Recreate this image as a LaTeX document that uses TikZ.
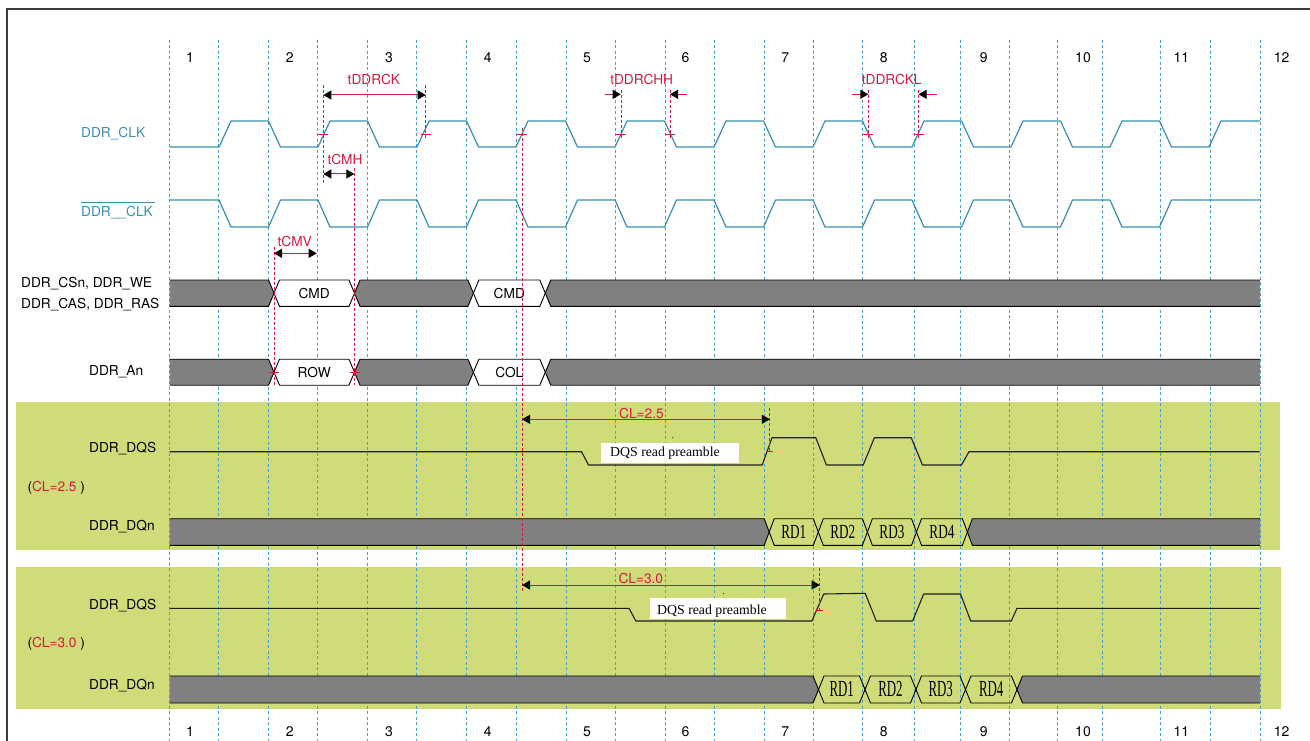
\documentclass[tikz,border=0pt]{standalone}
\usepackage{fontspec}
\setmainfont{TeX Gyre Heros}
\newfontfamily\tnr{Liberation Serif}
\usetikzlibrary{arrows.meta}
\definecolor{clk}{RGB}{58,143,176}
\definecolor{grid}{RGB}{70,160,205}
\definecolor{ann}{RGB}{215,25,65}
\definecolor{band}{RGB}{208,219,122}
\definecolor{busgray}{RGB}{128,128,128}
\definecolor{framec}{RGB}{60,60,60}

\newcommand\busL[5]{%
  \fill[busfill] (#1,#3-#4) -- (#2-#5,#3-#4) -- (#2,#3) -- (#2-#5,#3+#4) -- (#1,#3+#4) -- cycle;
  \draw[busline] (#1,#3-#4) -- (#2-#5,#3-#4) -- (#2,#3) -- (#2-#5,#3+#4) -- (#1,#3+#4);}
\newcommand\busR[5]{%
  \fill[busfill] (#1,#3) -- (#1+#5,#3-#4) -- (#2,#3-#4) -- (#2,#3+#4) -- (#1+#5,#3+#4) -- cycle;
  \draw[busline] (#2,#3-#4) -- (#1+#5,#3-#4) -- (#1,#3) -- (#1+#5,#3+#4) -- (#2,#3+#4);}
\newcommand\busH[6]{%
  \path[busline,#6] (#1,#3) -- (#1+#5,#3-#4) -- (#2-#5,#3-#4) -- (#2,#3) -- (#2-#5,#3+#4) -- (#1+#5,#3+#4) -- cycle;}

\tikzset{
  sans/.style={font=\fontsize{13.7}{16}\selectfont, inner sep=0pt},
  lblw/.style={sans, anchor=base west},
  lblc/.style={sans, anchor=base},
  anntext/.style={lblc, text=ann},
  clkline/.style={draw=clk, line width=1.2pt, line join=round},
  dqsline/.style={draw=black!88, line width=1.1pt, line join=round},
  busline/.style={draw=black, line width=0.9pt},
  busfill/.style={fill=busgray},
  gdash/.style={draw=grid, line width=0.8pt, dash pattern=on 3pt off 2.5pt},
  rdash/.style={draw=ann, line width=0.9pt, dash pattern=on 3pt off 2pt},
  rtick/.style={draw=ann, line width=0.9pt},
  dimboth/.style={draw=ann, line width=1pt, {Triangle[length=8pt,width=9pt,color=black]}-{Triangle[length=8pt,width=9pt,color=black]}},
  dimone/.style={draw=ann, line width=1pt, -{Triangle[length=8pt,width=9pt,color=black]}},
  rdtext/.style={inner sep=0pt, anchor=base},
  pretext/.style={inner sep=0pt, anchor=base west, font=\tnr\fontsize{13.8}{15}\selectfont},
}

\begin{document}
\begin{tikzpicture}[x=1pt,y=-1pt]
\useasboundingbox (0,0) rectangle (1310,741);
\fill[white] (0,0) rectangle (1310,741);

% green bands
\fill[band] (16,401.7) rectangle (1279.5,550.3);
\fill[band] (16,567) rectangle (1281,709.3);

% grid
\foreach \gx in {169.7,218.7,268.3,317.7,367.3,416.7,466.7,516.3,566,615.3,665,714.3,764,813.3,862.7,914,960.7,1009.3,1057,1102,1160.7,1210.3,1260}
  \draw[gdash] (\gx,40) -- (\gx,741);

% frame
\draw[framec, line width=1.3pt] (7,741) -- (7,9) -- (1310,9);

% cycle numbers
\foreach \n/\nx in {1/190,2/289.7,3/389,4/487.7,5/587,6/685.5,7/785.3,8/883.8,9/983.7,10/1083,11/1181.3,12/1281.7} {
  \node[lblc, font=\fontsize{14}{16}\selectfont] (top\n) at (\nx,62.5) {\n};
  \node[lblc, font=\fontsize{14}{16}\selectfont] (bot\n) at (\nx,736.5) {\n};
}

% DDR_CLK
\draw[clkline] (169.7,147) -- (219,147) -- (231,121) -- (268.5,121) -- (280.5,147) -- (318,147);
\foreach \k in {3,5,...,19} {
  \pgfmathsetmacro\e{169.5+49.5*\k}
  \draw[clkline] (\e,147) -- (\e+12,121) -- (\e+49.5,121) -- (\e+61.5,147) -- (\e+99,147);
}
\draw[clkline] (1209,147) -- (1221,121) -- (1260,121);

% DDR__CLK (inverted)
\draw[clkline] (169.7,200) -- (219,200) -- (231,227) -- (268.5,227) -- (280.5,200) -- (318,200);
\foreach \k in {3,5,...,17} {
  \pgfmathsetmacro\e{169.5+49.5*\k}
  \draw[clkline] (\e,200) -- (\e+12,227) -- (\e+49.5,227) -- (\e+61.5,200) -- (\e+99,200);
}
\draw[clkline] (1110,200) -- (1122,227) -- (1159.5,227) -- (1171.5,200) -- (1260,200);

% command bus
\busL{169.7}{274}{293.2}{13.2}{5.5}
\busH{274}{354.5}{293.2}{13.2}{5.5}{fill=white}
\busH{354.5}{473.4}{293.2}{13.2}{5.5}{fill=busgray}
\busH{473.4}{545.3}{293.2}{13.2}{5.5}{fill=white}
\busR{545.3}{1260}{293.2}{13.2}{5.5}
\node[sans] (cmd1) at (314.2,293.2) {CMD};
\node[sans] (cmd2) at (509.3,293.2) {CMD};

% address bus
\busL{169.7}{274}{372.2}{13}{5.5}
\busH{274}{354.5}{372.2}{13}{5.5}{fill=white}
\busH{354.5}{473.4}{372.2}{13}{5.5}{fill=busgray}
\busH{473.4}{545.3}{372.2}{13}{5.5}{fill=white}
\busR{545.3}{1260}{372.2}{13}{5.5}
\node[sans] (row) at (314.2,372.4) {ROW};
\node[sans] (col) at (509.3,372.4) {COL};

% DQS band 1
\draw[dqsline] (169.7,451.7) -- (581.5,451.7) -- (588.5,465) -- (762.2,465) -- (772,437.7) -- (815.8,437.7) -- (826.4,465) -- (863.2,465) -- (874.4,437.7) -- (911.2,437.7) -- (922.5,465) -- (961.4,465) -- (969,451.7) -- (1259.5,451.7);
\fill[white] (600.8,443.3) rectangle (738.7,462.7);
\node[pretext] (pre1) at (610,456.7) {DQS read preamble};
\fill[black!80] (672.7,437.7) circle (0.6);

% DQn band 1
\busL{169.7}{769.2}{532}{13.3}{5}
\busH{769.2}{818.3}{532}{13.3}{5}{fill=none}
\busH{818.3}{867.4}{532}{13.3}{5}{fill=none}
\busH{867.4}{916.5}{532}{13.3}{5}{fill=none}
\busH{916.5}{967.4}{532}{13.3}{5}{fill=none}
\busR{967.4}{1260}{532}{13.3}{5}
\foreach \r/\rx in {1/793.75,2/842.85,3/891.95,4/941.95}
  \node[rdtext] (rda\r) at (\rx,538.3) {\tnr\fontsize{20}{22}\selectfont\scalebox{0.66}[1]{RD\r}};

% DQS band 2
\draw[dqsline] (169.7,608.3) -- (629.1,608.3) -- (635.8,621) -- (811.8,621) -- (823.7,594) -- (865.2,593.3) -- (876.3,621) -- (912.6,621) -- (923.7,594) -- (960.5,594) -- (970.7,621) -- (1011.3,621) -- (1017,608.3) -- (1259.5,608.3);
\fill[white] (649.7,597.7) rectangle (786.1,619.3);
\node[pretext] (pre2) at (657,614.2) {DQS read preamble};
\fill[black!80] (723.6,593.3) circle (0.6);

% DQn band 2
\busL{169.7}{818.5}{689.5}{13.5}{5.5}
\busH{818.5}{865}{689.5}{13.5}{5.5}{fill=none}
\busH{865}{916}{689.5}{13.5}{5.5}{fill=none}
\busH{916}{965.5}{689.5}{13.5}{5.5}{fill=none}
\busH{965.5}{1017}{689.5}{13.5}{5.5}{fill=none}
\busR{1017}{1260}{689.5}{13.5}{5.5}
\foreach \r/\rx in {1/841.75,2/890.5,3/940.75,4/991.25}
  \node[rdtext] (rdb\r) at (\rx,696) {\tnr\fontsize{23}{25}\selectfont\scalebox{0.56}[1]{RD\r}};

% red dashed reference lines
\draw[rdash] (323.3,85) -- (323.3,183.5);
\draw[rdash] (425.7,85) -- (425.7,140);
\draw[rdash] (354.3,168) -- (354.3,385);
\draw[rdash] (274,246.7) -- (274,385);
\draw[rdash] (522,128) -- (522,592);
\draw[rdash] (621,90) -- (621,140);
\draw[rdash] (670.3,90) -- (670.3,140);
\draw[rdash] (868.3,90) -- (868.3,140);
\draw[rdash] (918.6,90) -- (918.6,140);
\draw[rdash] (769.9,408.3) -- (769.9,453.3);
\draw[rdash] (819.7,568) -- (819.7,611.7);

% red ticks
\foreach \tx in {323.3,425.7,522,621,670.3,868.3,918.6}
  \draw[rtick] (\tx-5,134) -- (\tx+5,134);
\draw[rtick] (268.5,372.2) -- (278.5,372.2);
\draw[rtick] (349.8,372.2) -- (359.8,372.2);
\draw[rtick] (765.7,451.7) -- (772.5,451.7);
\draw[rtick] (815.8,610) -- (822.5,610);

% dimension arrows
\coordinate (ck1) at (323.3,95);   \coordinate (ck2) at (425.7,95);
\draw[dimboth] (ck1) -- (ck2);
\node[anntext] (tddrck) at (373.8,85) {tDDRCK};

\coordinate (cmh1) at (323.3,174); \coordinate (cmh2) at (354.3,174);
\draw[dimboth] (cmh1) -- (cmh2);
\node[anntext] (tcmh) at (345,165) {tCMH};

\coordinate (cmv1) at (274,253.3); \coordinate (cmv2) at (316.7,253.3);
\draw[dimboth] (cmv1) -- (cmv2);
\node[anntext] (tcmv) at (294.7,246) {tCMV};

\coordinate (chh1) at (605,94.3);  \coordinate (chh2) at (620.7,94.3);
\coordinate (chh3) at (686.7,94.3); \coordinate (chh4) at (670,94.3);
\draw[dimone] (chh1) -- (chh2);
\draw[dimone] (chh3) -- (chh4);
\node[anntext] (tddrchh) at (641.7,85) {tDDRCHH};

\coordinate (ckl1) at (851.7,94.3); \coordinate (ckl2) at (868.3,94.3);
\coordinate (ckl3) at (936.7,94.3); \coordinate (ckl4) at (918.6,94.3);
\draw[dimone] (ckl1) -- (ckl2);
\draw[dimone] (ckl3) -- (ckl4);
\node[anntext] (tddrckl) at (891.7,85) {tDDRCKL};

\coordinate (cla1) at (522,419.3); \coordinate (cla2) at (769.9,419.3);
\draw[dimboth] (cla1) -- (cla2);
\node[anntext] (cl25) at (641.5,418) {CL=2.5};

\coordinate (clb1) at (522,585); \coordinate (clb2) at (819.7,585);
\draw[dimboth] (clb1) -- (clb2);
\node[anntext] (cl30) at (640.8,583.3) {CL=3.0};

% signal labels
\node[lblw, text=clk] (lclk) at (81,137.9) {DDR\_CLK};
\node[lblw, text=clk] (lclkb) at (81,216.9) {DDR\_\_CLK};
\draw[clk, line width=1pt] (lclkb.west |- 0,202.5) -- (155,202.5);
\node[lblw] (lcs) at (21,287.2) {DDR\_CSn, DDR\_WE};
\node[lblw] (lcas) at (21,308.9) {DDR\_CAS, DDR\_RAS};
\node[lblw] (lan) at (89,375.6) {DDR\_An};
\node[lblw] (ldqs1) at (89,452.2) {DDR\_DQS};
\node[lblw] (lcl1) at (27.3,491.6) {({\color{ann}CL=2.5} )};
\node[lblw] (ldqn1) at (89,530.9) {DDR\_DQn};
\node[lblw] (ldqs2) at (89,609.9) {DDR\_DQS};
\node[lblw] (lcl2) at (27.3,647.2) {({\color{ann}CL=3.0} )};
\node[lblw] (ldqn2) at (89,689.9) {DDR\_DQn};
\end{tikzpicture}
\end{document}
